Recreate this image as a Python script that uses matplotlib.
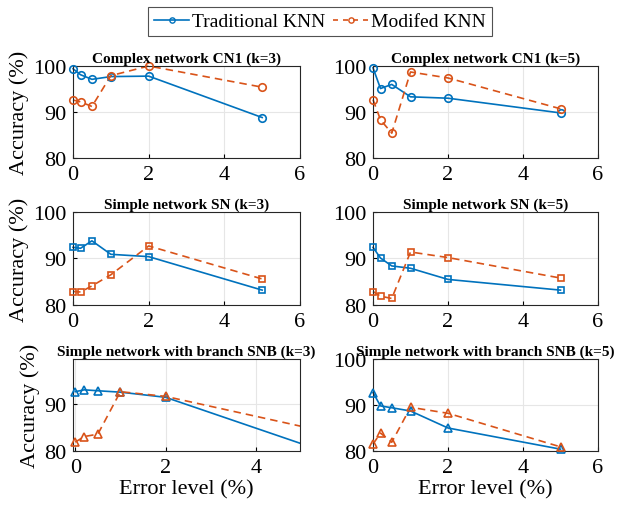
import matplotlib
matplotlib.use("Agg")
import matplotlib.pyplot as plt
from matplotlib.lines import Line2D

plt.rcParams['font.family'] = ['Liberation Serif', 'DejaVu Serif']

error_levels = [0, 0.2, 0.5, 1, 2, 5]

titles = [
    "Complex network CN1 (k=3)", "Complex network CN1 (k=5)",
    "Simple network SN (k=3)", "Simple network SN (k=5)",
    "Simple network with branch SNB (k=3)", "Simple network with branch SNB (k=5)",
]

trad_cn1_k3 = [99.4, 98.1, 97.1, 97.7, 97.8, 88.8]
mod_cn1_k3 = [92.6, 92.2, 91.2, 97.9, 100.0, 95.4]
trad_cn1_k5 = [99.6, 95.1, 96.0, 93.3, 93.0, 89.8]
mod_cn1_k5 = [92.7, 88.3, 85.4, 98.7, 97.4, 90.7]
trad_sn_k3 = [92.4, 92.2, 93.8, 90.9, 90.4, 83.2]
mod_sn_k3 = [82.9, 82.8, 84.1, 86.5, 92.7, 85.6]
trad_sn_k5 = [92.4, 90.1, 88.4, 87.9, 85.5, 83.2]
mod_sn_k5 = [82.9, 81.9, 81.4, 91.4, 90.2, 85.8]
trad_snb_k3 = [92.7, 93.1, 92.9, 92.6, 91.5, 81.6]
mod_snb_k3 = [81.9, 83.1, 83.6, 92.7, 91.7, 85.3]
trad_snb_k5 = [92.7, 89.8, 89.4, 88.7, 85.0, 80.4]
mod_snb_k5 = [81.5, 83.9, 81.9, 89.5, 88.2, 80.9]

trad = [trad_cn1_k3, trad_cn1_k5, trad_sn_k3, trad_sn_k5, trad_snb_k3, trad_snb_k5]
mod = [mod_cn1_k3, mod_cn1_k5, mod_sn_k3, mod_sn_k5, mod_snb_k3, mod_snb_k5]
markers = ['o', 'o', 's', 's', '^', '^']
msizes = {'o': 5.4, 's': 4.8, '^': 6.0}

legend_labels = ["Traditional KNN", "Modifed KNN"]
BLUE = '#0072BD'
ORANGE = '#D95319'

W, H = 617, 510
fig = plt.figure(figsize=(W / 100, H / 100), dpi=100)

# axes boxes in pixels: (left, right, top, bottom)
boxes = [
    (73, 300, 67, 159), (373, 598, 67, 159),
    (73, 300, 213, 306), (373, 598, 213, 306),
    (73, 300, 360, 452), (373, 598, 360, 452),
]

for i, (l, r, t, b) in enumerate(boxes):
    ax = fig.add_axes([l / W, 1 - b / H, (r - l) / W, (b - t) / H])
    ax.grid(True, color='#e6e6e6', linewidth=0.8)
    ax.set_axisbelow(True)
    m = markers[i]
    ms = msizes[m]
    clip_lines = (i == 4)
    for data, col, ls in ((trad[i], BLUE, '-'), (mod[i], ORANGE, '--')):
        ln, = ax.plot(error_levels, data, ls, color=col, lw=1.2,
                      clip_on=clip_lines, zorder=2)
        if ls == '--':
            ln.set_dashes((4.5, 3))
        n_vis = 5 if i == 4 else len(error_levels)
        ax.plot(error_levels[:n_vis], data[:n_vis], linestyle='none', marker=m,
                mfc='none', mec=col, ms=ms, mew=1.2, clip_on=False, zorder=3)
    if i == 4:
        ax.set_xlim(-0.05, 4.98)
        ax.set_ylim(80, 99.7)
        ax.set_xticks([0, 2, 4])
        ax.set_yticks([80, 90])
    else:
        ax.set_xlim(0, 6)
        ax.set_ylim(80, 100)
        ax.set_xticks([0, 2, 4, 6])
        ax.set_yticks([80, 90, 100])
    ax.tick_params(direction='in', length=3, labelsize=16, width=0.8,
                   top=False, right=False)
    ax.tick_params(axis='x', pad=5)
    ax.tick_params(axis='y', pad=5)
    for s in ax.spines.values():
        s.set_linewidth(0.8)
        s.set_color('#262626')
    ax.set_title(titles[i], fontsize=11, fontweight='bold', pad=3)
    if i % 2 == 0:
        ax.set_ylabel("Accuracy (%)", fontsize=16, labelpad=3)
    if i >= 4:
        ax.set_xlabel("Error level (%)", fontsize=16, labelpad=2)

h1 = Line2D([], [], color=BLUE, lw=1.2, marker='o', mfc='none', mec=BLUE, ms=3.8, mew=1.0)
h2 = Line2D([], [], color=ORANGE, lw=1.2, ls='--', marker='o', mfc='none', mec=ORANGE,
            ms=3.8, mew=1.0)
h2.set_dashes((3, 3))
leg = fig.legend([h1, h2], legend_labels, loc='center',
                 bbox_to_anchor=(320 / W, 1 - 22.5 / H), ncol=2, fontsize=14,
                 frameon=True, fancybox=False, edgecolor='#262626',
                 handlelength=1.8, handletextpad=0.15, columnspacing=0.4,
                 borderpad=0.3, borderaxespad=0)
leg.get_frame().set_linewidth(0.8)

fig.savefig("out.png", dpi=100)
